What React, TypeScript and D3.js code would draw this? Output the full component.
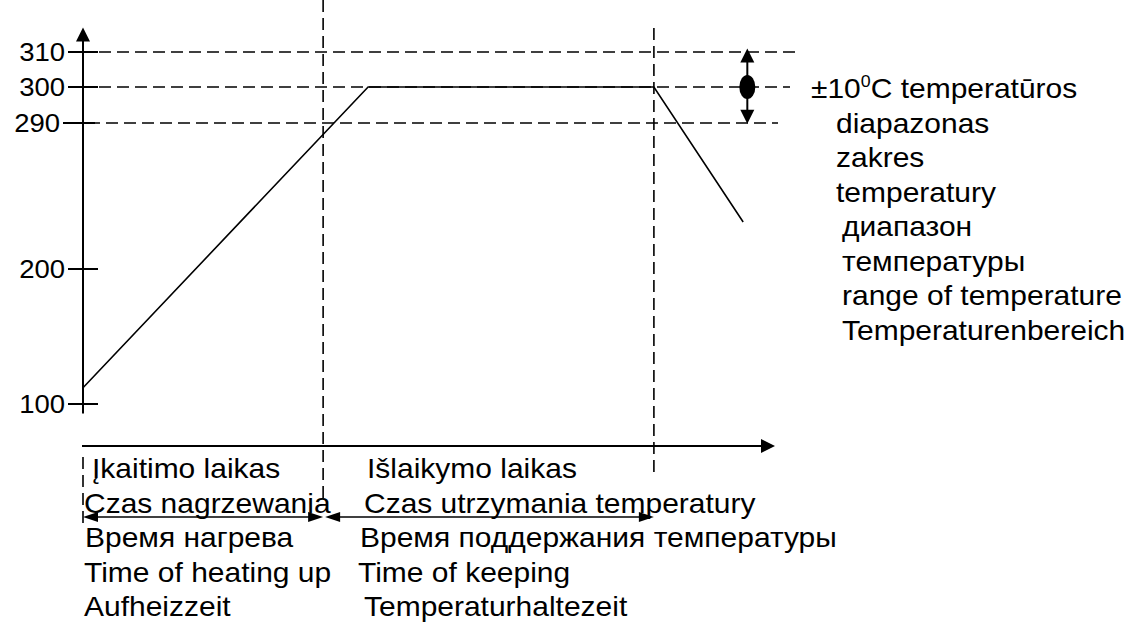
import React from 'react';
import * as d3 from 'd3';

// ---------- data ----------
const yTickValues = [100, 200, 290, 300, 310];
const yTickLabels = ['100', '200', '290', '300', '310'];
const toleranceLevels = [290, 300, 310];
const toleranceCenter = 300;

// schematic time units
const profileTime = [0, 4.12, 8.25, 9.54];
const profileTemp = [112, 300, 300, 229];
const phaseBounds = [0, 3.47, 8.25]; // heating start, heating end, holding end
const markerTime = 9.6;

const heatingLabels = ['Įkaitimo laikas', 'Czas nagrzewania', 'Время нагрева', 'Time of heating up', 'Aufheizzeit'];
const holdingLabels = ['Išlaikymo laikas', 'Czas utrzymania temperatury', 'Время поддержания температуры', 'Time of keeping', 'Temperaturhaltezeit'];
const legendLines = ['C temperatūros', 'diapazonas', 'zakres', 'temperatury', 'диапазон', 'температуры', 'range of temperature', 'Temperaturenbereich'];
const legendPrefix = '±10';
const legendSup = '0';

// ---------- layout ----------
const W = 1142, H = 625;
const FONT = '"Liberation Sans", Arial, sans-serif';
const FS = 27;
const SX = 30 / FS;
const yRange = [404, 269, 123, 87, 52];
const xScale = d3.scaleLinear().domain([0, 10]).range([83, 775]);
const yScale = d3.scaleLinear().domain(yTickValues).range(yRange);
const axisY = 446;
const yAxisBottom = 93, yAxisTop = 317;
const dashEnds = [778, 790, 795];
const heatX = [92, 84, 85, 84, 84];
const holdX = [367, 364, 360, 358, 364];
const legendX = [811, 836, 836, 836, 842, 842, 842, 842];
const legendY0 = 98, bottomY0 = 478, LH = 34.5;
const arrowRowY = 517;

const T = ({ x, y, children }: any) => (
  <text transform={`translate(${x},${y}) scale(${SX},1)`} fontSize={FS} fontFamily={FONT} fill="#000">
    {children}
  </text>
);

const headRight = (x: number, y: number, len = 15, hw = 5) => `M${x},${y}L${x - len},${y - hw}L${x - len},${y + hw}Z`;
const headLeft = (x: number, y: number, len = 15, hw = 5) => `M${x},${y}L${x + len},${y - hw}L${x + len},${y + hw}Z`;
const headUp = (x: number, y: number, len = 14, hw = 7) => `M${x},${y}L${x - hw},${y + len}L${x + hw},${y + len}Z`;
const headDown = (x: number, y: number, len = 14, hw = 7) => `M${x},${y}L${x - hw},${y - len}L${x + hw},${y - len}Z`;

export default function App() {
  const line = d3.line<number>().x((_, i) => xScale(profileTime[i])).y((d) => yScale(d));
  const x0 = xScale(0);
  const xAxisEnd = xScale(10);
  const yTop = yScale(yAxisTop);
  const yBot = yScale(yAxisBottom);
  const mx = xScale(markerTime);
  const dash = '12,6';
  return (
    <svg width={W} height={H} style={{ position: 'absolute', left: 0, top: 0, background: '#fff' }}>
      {/* horizontal dashed tolerance lines */}
      {toleranceLevels.map((v, i) => (
        <line key={v} x1={v === 290 ? 88 : 99} x2={dashEnds[i]} y1={yScale(v)} y2={yScale(v)}
          stroke="#000" strokeWidth={1.6} strokeDasharray={dash} />
      ))}
      {/* vertical dashed phase boundaries */}
      <line x1={xScale(phaseBounds[1])} x2={xScale(phaseBounds[1])} y1={0} y2={503} stroke="#000" strokeWidth={1.6} strokeDasharray={dash} />
      <line x1={xScale(phaseBounds[2])} x2={xScale(phaseBounds[2])} y1={28} y2={476} stroke="#000" strokeWidth={1.6} strokeDasharray={dash} />
      <line x1={xScale(phaseBounds[0])} x2={xScale(phaseBounds[0])} y1={457} y2={527} stroke="#000" strokeWidth={1.6} strokeDasharray={dash} />

      {/* y axis */}
      <line x1={x0} x2={x0} y1={yBot} y2={yTop + 10} stroke="#000" strokeWidth={2} />
      <path d={headUp(x0, yTop)} fill="#000" />
      {yTickValues.map((v, i) => (
        <g key={v}>
          <line x1={v === 290 ? 63 : 68} x2={v === 290 ? 95 : 98} y1={yScale(v)} y2={yScale(v)} stroke="#000" strokeWidth={2} />
          <text transform={`translate(${v === 290 ? 60 : 65},${yScale(v) + 9}) scale(1.1,1)`} fontSize={25} fontFamily={FONT} textAnchor="end">
            {yTickLabels[i]}
          </text>
        </g>
      ))}

      {/* x axis */}
      <line x1={x0 - 1} x2={xAxisEnd - 10} y1={axisY} y2={axisY} stroke="#000" strokeWidth={2} />
      <path d={headRight(xAxisEnd, axisY, 14, 7)} fill="#000" />

      {/* profile */}
      <path d={line(profileTemp) || ''} fill="none" stroke="#000" strokeWidth={1.6} />

      {/* tolerance marker */}
      <line x1={mx} x2={mx} y1={yScale(311) + 10} y2={yScale(289.5) - 10} stroke="#000" strokeWidth={2} />
      <path d={headUp(mx, yScale(311))} fill="#000" />
      <path d={headDown(mx, yScale(289.5))} fill="#000" />
      <ellipse cx={mx} cy={yScale(toleranceCenter)} rx={8} ry={12} fill="#000" />

      {/* legend text */}
      <text transform={`translate(${legendX[0]},${legendY0}) scale(${SX},1)`} fontSize={FS} fontFamily={FONT}>
        {legendPrefix}
        <tspan fontSize={16} dy={-11}>{legendSup}</tspan>
        <tspan dy={11}>{legendLines[0]}</tspan>
      </text>
      {legendLines.slice(1).map((s, i) => (
        <T key={s} x={legendX[i + 1]} y={legendY0 + LH * (i + 1)}>{s}</T>
      ))}

      {/* bottom labels */}
      {heatingLabels.map((s, i) => (
        <T key={s} x={heatX[i]} y={bottomY0 + LH * i}>{s}</T>
      ))}
      {holdingLabels.map((s, i) => (
        <T key={s} x={holdX[i]} y={bottomY0 + LH * i}>{s}</T>
      ))}

      {/* duration arrows */}
      <line x1={x0 + 5} x2={xScale(phaseBounds[1]) - 5} y1={arrowRowY} y2={arrowRowY} stroke="#000" strokeWidth={1.6} />
      <path d={headLeft(x0, arrowRowY)} fill="#000" />
      <path d={headRight(xScale(phaseBounds[1]), arrowRowY)} fill="#000" />
      <line x1={xScale(phaseBounds[1]) + 5} x2={xScale(phaseBounds[2]) - 5} y1={arrowRowY} y2={arrowRowY} stroke="#000" strokeWidth={1.6} />
      <path d={headLeft(xScale(phaseBounds[1]) + 2, arrowRowY)} fill="#000" />
      <path d={headRight(xScale(phaseBounds[2]), arrowRowY)} fill="#000" />
    </svg>
  );
}
